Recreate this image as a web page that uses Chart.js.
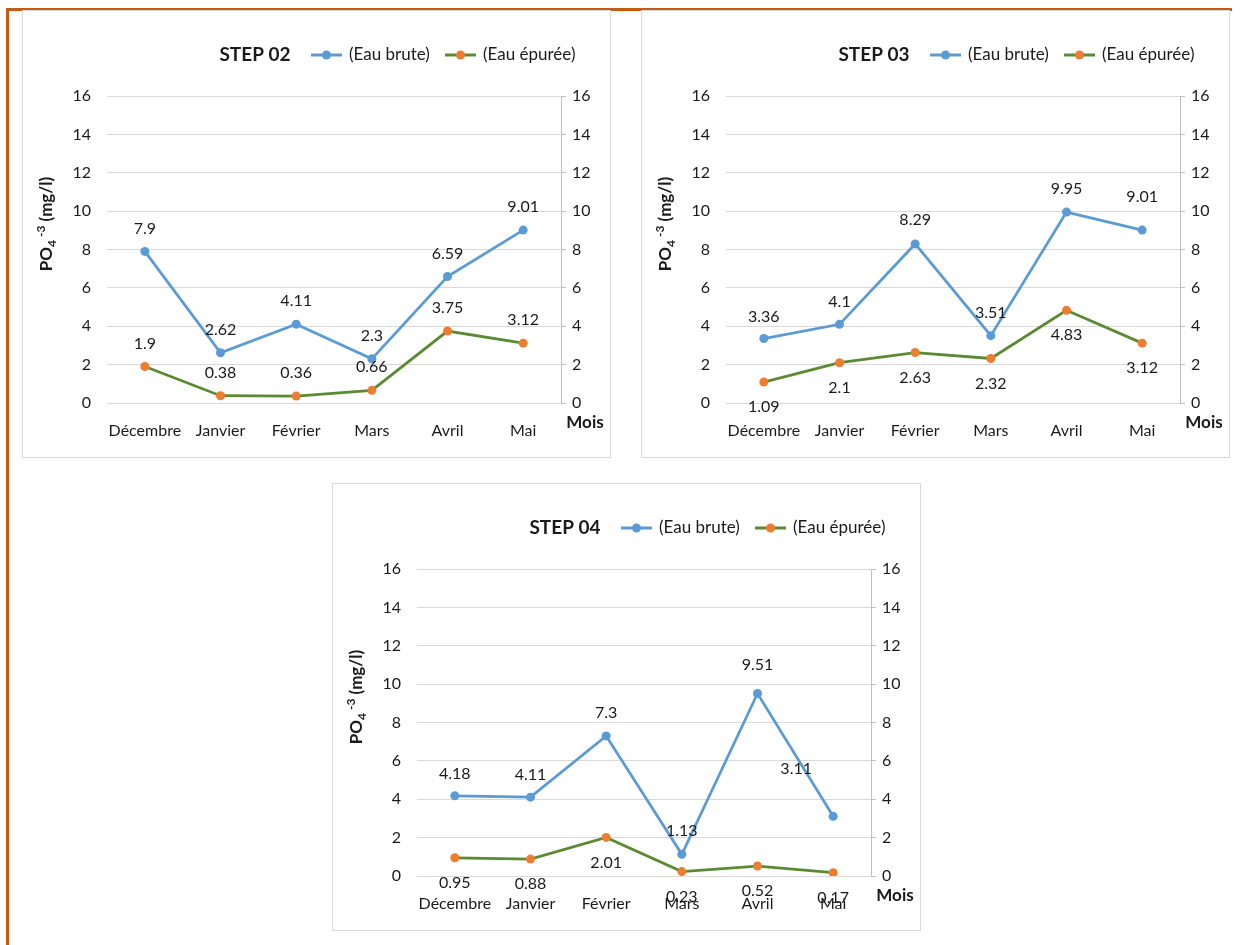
<!DOCTYPE html>
<html>
<head>
<meta charset="utf-8">
<script src="https://cdn.jsdelivr.net/npm/chart.js@4.4.0/dist/chart.umd.min.js"></script>
<style>
  body { margin: 0; background: #fff; width: 1242px; height: 945px; position: relative; overflow: hidden; }
  .edge { position: absolute; background: #c55a11; }
  .panel { position: absolute; width: 589px; height: 448px; outline: 1px solid #d9d9d9; outline-offset: -1px; }
  .panel canvas { position: absolute; left: 0; top: 0; }
</style>
</head>
<body>
<div class="edge" style="left:6px;top:8px;width:1226px;height:3px"></div>
<div class="edge" style="left:6px;top:8px;width:3px;height:937px"></div>

<div class="panel" style="left:22px;top:10px"><canvas id="step02"></canvas></div>
<div class="panel" style="left:641px;top:10px"><canvas id="step03"></canvas></div>
<div class="panel" style="left:332px;top:483px"><canvas id="step04"></canvas></div>

<script>
const months = ['Décembre', 'Janvier', 'Février', 'Mars', 'Avril', 'Mai'];

const brute02 = [7.9, 2.62, 4.11, 2.3, 6.59, 9.01];
const epuree02 = [1.9, 0.38, 0.36, 0.66, 3.75, 3.12];

const brute03 = [3.36, 4.1, 8.29, 3.51, 9.95, 9.01];
const epuree03 = [1.09, 2.1, 2.63, 2.32, 4.83, 3.12];

const brute04 = [4.18, 4.11, 7.3, 1.13, 9.51, 3.11];
const epuree04 = [0.95, 0.88, 2.01, 0.23, 0.52, 0.17];

const yMin = 0, yMax = 16, yStep = 2;

const FONT = 'Lato, "Open Sans", sans-serif';
const TXT = '#1a1a1a';
const BLUE = '#5b9bd5';
const GREEN = '#5a8a32';
const ORANGE = '#ed7d31';

// title, legend, axis titles and value labels drawn straight on the canvas
const decorPlugin = {
  id: 'decor',
  afterDatasetsDraw(chart, args, opts) {
    const ctx = chart.ctx;
    ctx.save();
    ctx.fillStyle = TXT;
    ctx.textBaseline = 'middle';

    // value labels
    ctx.font = '16px ' + FONT;
    ctx.textAlign = 'center';
    chart.data.datasets.forEach((ds, i) => {
      const meta = chart.getDatasetMeta(i);
      const offs = opts.offsets[i];
      meta.data.forEach((pt, j) => {
        const o = Array.isArray(offs) ? offs[j] : offs;
        const dx = Array.isArray(o) ? o[0] : 0;
        const dy = Array.isArray(o) ? o[1] : o;
        ctx.fillText(String(ds.data[j]), pt.x + dx, pt.y + dy);
      });
    });

    // title
    ctx.font = 'bold 19px ' + FONT;
    ctx.fillText(opts.title, 233, 45);

    // legend
    const drawKey = (x, line, dot, text) => {
      ctx.strokeStyle = line;
      ctx.lineWidth = 3;
      ctx.beginPath();
      ctx.moveTo(x, 45);
      ctx.lineTo(x + 31, 45);
      ctx.stroke();
      ctx.fillStyle = dot;
      ctx.beginPath();
      ctx.arc(x + 15.5, 45, 4.5, 0, Math.PI * 2);
      ctx.fill();
      ctx.fillStyle = TXT;
      ctx.font = '17px ' + FONT;
      ctx.textAlign = 'left';
      ctx.fillText(text, x + 38, 45);
    };
    drawKey(289, BLUE, BLUE, chart.data.datasets[0].label);
    drawKey(423, GREEN, ORANGE, chart.data.datasets[1].label);

    // x axis title
    ctx.font = 'bold 17px ' + FONT;
    ctx.textAlign = 'center';
    ctx.fillText('Mois', 563, 413);

    // y axis title: PO4 -3 (mg/l), rotated
    ctx.translate(25, 214);
    ctx.rotate(-Math.PI / 2);
    const big = 'bold 17px ' + FONT, small = 'bold 12px ' + FONT;
    const parts = [['PO', big, 0], ['4', small, 5], [' -3', small, -6], [' (mg/l)', big, 0]];
    let w = 0;
    parts.forEach(p => { ctx.font = p[1]; w += ctx.measureText(p[0]).width; });
    let x = -w / 2;
    ctx.textAlign = 'left';
    parts.forEach(p => {
      ctx.font = p[1];
      ctx.fillText(p[0], x, p[2]);
      x += ctx.measureText(p[0]).width;
    });
    ctx.restore();
  }
};

function makeChart(id, title, brute, epuree, offsets) {
  return new Chart(document.getElementById(id), {
    type: 'line',
    data: {
      labels: months,
      datasets: [
        {
          label: '(Eau brute)',
          data: brute,
          borderColor: BLUE,
          backgroundColor: BLUE,
          pointBackgroundColor: BLUE,
          borderWidth: 2.75,
          pointRadius: 4.5,
          pointBorderWidth: 0,
          yAxisID: 'y'
        },
        {
          label: '(Eau épurée)',
          data: epuree,
          borderColor: GREEN,
          backgroundColor: ORANGE,
          pointBackgroundColor: ORANGE,
          borderWidth: 2.75,
          pointRadius: 4.5,
          pointBorderWidth: 0,
          yAxisID: 'y'
        }
      ]
    },
    options: {
      responsive: false,
      animation: false,
      devicePixelRatio: 1,
      layout: { padding: { top: 86, left: 0, right: 0, bottom: 0 } },
      plugins: {
        legend: { display: false },
        title: { display: false },
        tooltip: { enabled: false },
        decor: { title: title, offsets: offsets }
      },
      scales: {
        x: {
          offset: true,
          grid: { display: false },
          border: { display: false },
          ticks: { color: TXT, font: { family: FONT, size: 16 }, padding: 10, maxRotation: 0 },
          afterFit: s => { s.height = 55; }
        },
        y: {
          min: yMin, max: yMax,
          ticks: { stepSize: yStep, color: TXT, font: { family: FONT, size: 16 }, padding: 16 },
          grid: { color: '#d9d9d9', drawTicks: false },
          border: { display: false },
          afterFit: s => { s.width = 85; }
        },
        y2: {
          position: 'right',
          min: yMin, max: yMax,
          ticks: { stepSize: yStep, color: TXT, font: { family: FONT, size: 16 }, padding: 6 },
          grid: { drawOnChartArea: false, drawTicks: true, tickLength: 5, color: '#bfbfbf' },
          border: { display: true, color: '#bfbfbf' },
          afterFit: s => { s.width = 50; }
        }
      }
    },
    plugins: [decorPlugin]
  });
}

[['step02', 'STEP 02', brute02, epuree02, [-23, -23]],
 ['step03', 'STEP 03', brute03, epuree03, [[-22, -22, -24, -23, -23, -33], 25]],
 ['step04', 'STEP 04', brute04, epuree04, [[-22, -22, -23, -23, -29, [-37, -47]], 25]]].forEach(c => {
  const cv = document.getElementById(c[0]);
  cv.width = 589;
  cv.height = 448;
  makeChart(c[0], c[1], c[2], c[3], c[4]);
});
</script>
</body>
</html>
